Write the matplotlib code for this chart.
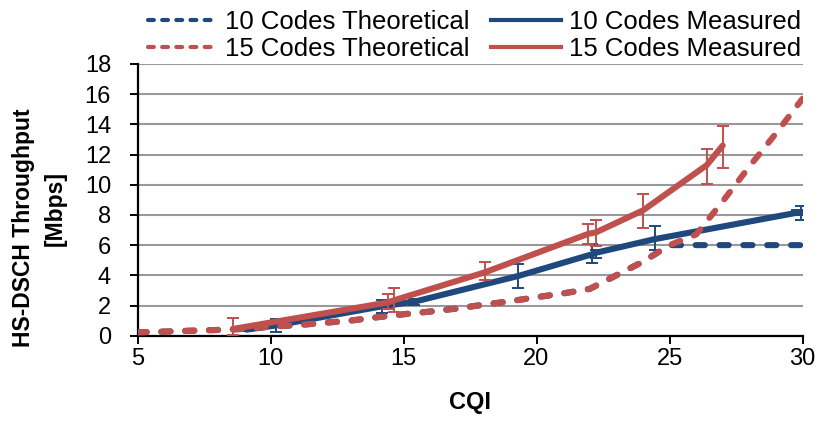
import numpy as np
import matplotlib.pyplot as plt
from matplotlib.lines import Line2D

plt.rcParams['font.family'] = ['Liberation Sans', 'DejaVu Sans']

# Theoretical curves (one value per integer CQI)
cqi_theory = list(range(5, 31))
th_15 = [0.22, 0.27, 0.33, 0.38, 0.45, 0.60, 0.70, 0.85, 1.00, 1.22,
         1.42, 1.60, 1.80, 2.05, 2.28, 2.55, 2.80, 3.10, 4.00, 4.90,
         6.00, 6.70, 8.90, 11.20, 13.40, 15.70]
th_10 = [0.22, 0.27, 0.33, 0.38, 0.45, 0.60, 0.70, 0.85, 1.00, 1.22,
         1.42, 1.60, 1.80, 2.05, 2.28, 2.55, 2.80, 3.10, 4.00, 4.90,
         6.00, 6.00, 6.00, 6.00, 6.00, 6.00]

# Measured (mean CQI, mean throughput, error bar low/high)
cqi_m10 = [9.1, 10.2, 14.2, 15.4, 19.3, 22.1, 22.25, 24.45, 29.8, 29.95]
thr_m10 = [0.40, 0.68, 1.95, 2.25, 3.95, 5.40, 5.50, 6.40, 8.15, 8.15]
lo_m10 = [0.30, 0.27, 1.48, 2.03, 3.14, 4.80, 5.15, 5.70, 8.00, 7.66]
hi_m10 = [0.50, 1.08, 2.36, 2.45, 4.75, 6.10, 5.70, 7.25, 8.30, 8.60]

cqi_m15 = [8.6, 14.4, 14.65, 18.06, 21.95, 22.24, 24.0, 26.4, 27.0]
thr_m15 = [0.45, 2.20, 2.35, 4.20, 6.75, 6.85, 8.30, 11.30, 12.60]
lo_m15 = [0.05, 1.80, 1.59, 3.69, 6.10, 5.96, 7.15, 10.05, 11.10]
hi_m15 = [1.15, 2.76, 3.14, 4.90, 7.40, 7.66, 9.38, 12.40, 13.90]

blue = '#1F497D'
red = '#C0504D'

fig = plt.figure(figsize=(8.18, 4.28), dpi=100)
ax = fig.add_axes([137.5 / 818, 1 - 335.7 / 428, 665 / 818, 271.7 / 428])

dash = dict(linestyle=(0, (1.5, 2.4)), dash_capstyle='round', lw=4.4)

ax.plot(cqi_theory, th_10, color=blue, zorder=3, **dash)


def err(x, y, lo, hi, c, z):
    y = np.array(y)
    yerr = [y - np.array(lo), np.array(hi) - y]
    ax.errorbar(x, y, yerr=yerr, fmt='none', ecolor=c, elinewidth=1.4,
                capsize=4, capthick=1.4, zorder=z)


err(cqi_m10, thr_m10, lo_m10, hi_m10, blue, 4)
ax.plot(cqi_m10, thr_m10, color=blue, lw=4.4, solid_capstyle='round', zorder=4)
ax.plot(cqi_theory, th_15, color=red, zorder=5, **dash)
err(cqi_m15, thr_m15, lo_m15, hi_m15, red, 6)
ax.plot(cqi_m15, thr_m15, color=red, lw=4.4, solid_capstyle='round', zorder=6)

ax.set_xlim(5, 30)
ax.set_ylim(0, 18)
ax.set_xticks(range(5, 31, 5))
ax.set_yticks(range(0, 19, 2))
ax.yaxis.grid(True, color='#999999', lw=1.5)
ax.set_axisbelow(True)
for s in ['top', 'right']:
    ax.spines[s].set_visible(False)
for s in ['left', 'bottom']:
    ax.spines[s].set_linewidth(1.6)
ax.tick_params(axis='both', labelsize=17, width=1.4, direction='out')
ax.tick_params(axis='y', length=6, pad=13)
ax.tick_params(axis='x', length=6, pad=3)

ax.set_xlabel('CQI', fontsize=17, fontweight='bold', labelpad=15)
fig.text(24 / 818, 1 - 228 / 428, 'HS-DSCH Throughput', rotation=90,
         ha='center', va='center', fontsize=16.5, fontweight='bold')
fig.text(55 / 818, 1 - 208 / 428, '[Mbps]', rotation=90,
         ha='center', va='center', fontsize=16.5, fontweight='bold')

# legend
lh = dict(linestyle=(0, (1.4, 2.0)), dash_capstyle='round', lw=3.0)
handles = [Line2D([], [], color=blue, **lh),
           Line2D([], [], color=red, **lh),
           Line2D([], [], color=blue, lw=3.0),
           Line2D([], [], color=red, lw=3.0)]
labels = ['10 Codes Theoretical', '15 Codes Theoretical',
          '10 Codes Measured', '15 Codes Measured']
fig.legend(handles, labels, ncol=2, loc='upper left',
           bbox_to_anchor=(148 / 818, 1 - 10 / 428), frameon=False,
           fontsize=18.5, handlelength=2.7, handletextpad=0.3,
           columnspacing=0.85, labelspacing=0.12, borderaxespad=0,
           borderpad=0)

fig.savefig('out.png', dpi=100)
